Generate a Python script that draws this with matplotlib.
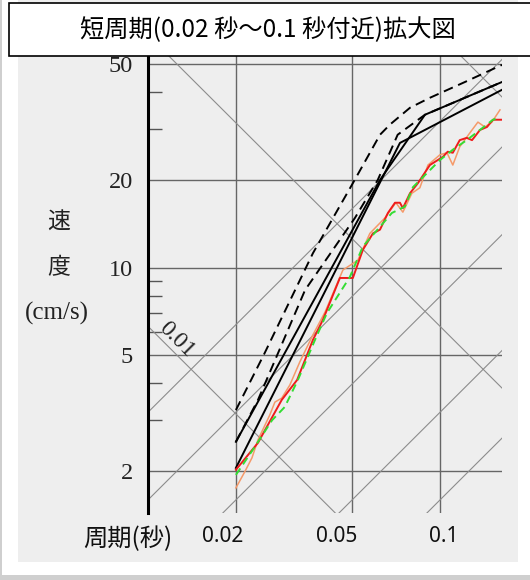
import numpy as np
import matplotlib
matplotlib.use('Agg')
import matplotlib.pyplot as plt
from matplotlib.patches import Rectangle
from matplotlib.transforms import ScaledTranslation

# ---------------- data ----------------
title = "短周期(0.02 秒～0.1 秒付近)拡大図"
xlabel = "周期(秒)"
ylabel_chars = ["速", "度"]
ylabel_unit = "(cm/s)"

xticks = [0.02, 0.05, 0.1]
xtick_labels = ["0.02", "0.05", "0.1"]
yticks = [2, 5, 10, 20, 50]
ytick_labels = ["2", "5", "10", "20", "50"]
yminor = [3, 4, 6, 7, 8, 9, 30, 40]

disp_lines = [0.01, 0.1, 1.0]          # cm (slope -1)
acc_lines = [100, 200, 500, 1000, 2000]  # cm/s2 (slope +1)
disp_label = "0.01"

# black design spectra
T_a = [0.02, 0.0251, 0.0367, 0.0503, 0.0623, 0.0674, 0.0789, 0.0923, 0.1217, 0.163]
V_a = [3.24, 5.09, 11.2, 19.5, 28.6, 31.0, 35.4, 38.3, 43.4, 49.7]
T_b = [0.02, 0.0238, 0.0345, 0.0511, 0.0612, 0.0716, 0.0888, 0.163]
V_b = [2.52, 3.51, 8.37, 14.8, 20.0, 28.6, 33.5, 43.4]
T_c = [0.02, 0.0729, 0.163]
V_c = [2.05, 26.8, 40.8]
T_d = [0.02, 0.0623, 0.0888, 0.163]
V_d = [2.52, 20.0, 33.5, 43.4]

# red
T_r = [0.02, 0.0238, 0.0287, 0.0324, 0.0367, 0.0397, 0.0454, 0.0503, 0.0544, 0.0589,
       0.0623, 0.0663, 0.0701, 0.0729, 0.0746, 0.0789, 0.0840, 0.0923, 0.1022, 0.1062,
       0.1106, 0.1168, 0.1234, 0.1287, 0.137, 0.1448, 0.1518, 0.163]
V_r = [2.02, 2.50, 3.51, 4.11, 5.64, 6.61, 9.21, 9.21, 11.5, 13.1,
       13.5, 15.4, 16.7, 16.7, 16.0, 18.0, 19.5, 22.5, 24.0, 25.0,
       24.8, 27.4, 27.9, 27.4, 29.7, 30.4, 32.2, 32.2]
# orange
T_o = [0.02, 0.0214, 0.0227, 0.0238, 0.0261, 0.0272, 0.0287, 0.0306, 0.0331, 0.0367,
       0.0404, 0.0465, 0.0523, 0.0575, 0.0647, 0.0706, 0.0746, 0.0801, 0.0853, 0.0909,
       0.0999, 0.1056, 0.1106, 0.1168, 0.1287, 0.1348, 0.1424, 0.1505, 0.1604]
V_o = [1.75, 1.98, 2.22, 2.56, 3.11, 3.45, 3.56, 3.95, 4.74, 5.87,
       7.04, 9.81, 10.6, 13.1, 14.8, 16.7, 15.5, 18.0, 18.8, 22.5,
       24.4, 24.8, 22.5, 26.0, 29.7, 31.6, 30.4, 31.6, 34.8]
# green dashed
T_g = [0.02, 0.0232, 0.0266, 0.0294, 0.0326, 0.0373, 0.0410, 0.0491, 0.0544, 0.0684,
       0.0758, 0.0808, 0.0923, 0.0999, 0.1106, 0.1234, 0.137, 0.1518, 0.1604]
V_g = [1.94, 2.42, 2.99, 3.32, 4.11, 5.64, 6.98, 9.28, 11.8, 15.4,
       16.2, 18.9, 21.6, 23.4, 25.4, 27.4, 29.7, 32.2, 32.7]

# ---------------- figure ----------------
W, H = 530, 580
fig = plt.figure(figsize=(W / 100, H / 100), dpi=100)
fig.patch.set_facecolor('white')

def fx(px):
    return px / W

def fy(py):
    return 1 - py / H

panel = Rectangle((fx(18), fy(562)), fx(518) - fx(18), fy(0) - fy(562),
                  transform=fig.transFigure, facecolor='#eeeeee',
                  edgecolor='none', zorder=-10)
fig.add_artist(panel)
# thin outer frame lines of the scanned page
fig.add_artist(Rectangle((0, fy(580)), fx(2), 1, transform=fig.transFigure,
                         facecolor='#cfcfcf', edgecolor='none', zorder=-9))
fig.add_artist(Rectangle((0, fy(580)), 1, fy(575) - fy(580), transform=fig.transFigure,
                         facecolor='#cfcfcf', edgecolor='none', zorder=-9))

ax = fig.add_axes([fx(148), fy(513), fx(502) - fx(148), fy(40) - fy(513)])
ax.set_zorder(1)
ax.set_facecolor('none')
ax.set_xscale('log')
ax.set_yscale('log')
ax.set_xlim(0.01, 0.163)
ax.set_ylim(1.435, 60.5)

# tripartite guide lines
Tg = np.array([0.005, 0.5])
for d in disp_lines:
    ax.plot(Tg, 2 * np.pi * d / Tg, color='#8c8c8c', lw=0.8, zorder=1)
for a in acc_lines:
    ax.plot(Tg, a * Tg / (2 * np.pi), color='#8c8c8c', lw=0.8, zorder=1)

# grid
ax.set_xticks(xticks)
ax.set_xticklabels(xtick_labels)
ax.set_yticks(yticks)
ax.set_yticklabels(ytick_labels)
ax.set_xticks([], minor=True)
ax.set_yticks(yminor, minor=True)
ax.set_yticklabels([], minor=True)
ax.grid(True, which='major', color='#666666', lw=1.0, zorder=1)
ax.set_axisbelow(True)

ax.tick_params(axis='x', which='major', length=0, pad=9)
ax.tick_params(axis='y', which='major', length=0, pad=11)
ax.tick_params(axis='y', which='minor', direction='in', length=10, width=1.0, color='#555555')
for lab in ax.get_yticklabels():
    lab.set_fontfamily('Liberation Serif')
    lab.set_fontsize(17.5)
    lab.set_color('#222222')
offsets = [-13.5, -15.5, 4]
for lab, off in zip(ax.get_xticklabels(), offsets):
    lab.set_fontfamily('Noto Sans')
    lab.set_fontsize(15)
    lab.set_color('#111111')
    lab.set_transform(lab.get_transform() + ScaledTranslation(off / 100, 0, fig.dpi_scale_trans))

for s in ['top', 'right', 'bottom']:
    ax.spines[s].set_visible(False)
ax.spines['left'].set_linewidth(2.2)
ax.spines['left'].set_color('black')

# spectra
ax.plot(T_a, V_a, color='black', lw=1.4, ls=(0, (5, 3)), zorder=4)
ax.plot(T_b, V_b, color='black', lw=1.4, ls=(0, (5, 3)), zorder=4)
ax.plot(T_c, V_c, color='black', lw=1.4, zorder=4)
ax.plot(T_d, V_d, color='black', lw=1.4, zorder=4)
ax.plot(T_o, V_o, color='#f59a6a', lw=1.1, zorder=5)
ax.plot(T_r, V_r, color='#ee1c1c', lw=1.4, zorder=6)
ax.plot(T_g, V_g, color='#33dd33', lw=1.4, ls=(0, (4, 2.5)), zorder=7)

# displacement label
ax.text(0.0118, 2 * np.pi * 0.01 / 0.0118, disp_label, rotation=-45, rotation_mode='anchor',
        ha='center', va='bottom', fontsize=17, family='Liberation Serif', color='#222222')

# axis labels
fig.text(fx(59), fy(222), ylabel_chars[0], ha='center', va='center', fontsize=16.5,
         family='Noto Sans CJK JP', color='#222222')
fig.text(fx(59), fy(268), ylabel_chars[1], ha='center', va='center', fontsize=16.5,
         family='Noto Sans CJK JP', color='#222222')
fig.text(fx(57), fy(313), ylabel_unit, ha='center', va='center', fontsize=18,
         family='Liberation Serif', color='#222222')
fig.text(fx(128), fy(539), xlabel, ha='center', va='center', fontsize=17.5,
         family=['Noto Sans CJK JP', 'DejaVu Sans'], color='#111111')

# title box
box = Rectangle((fx(9), fy(56)), fx(545) - fx(9), fy(3) - fy(56),
                transform=fig.transFigure, facecolor='white',
                edgecolor='black', lw=1.2, zorder=10)
fig.add_artist(box)
fig.text(fx(268), fy(30), title, ha='center', va='center', fontsize=17.5,
         family=['Noto Sans CJK JP', 'DejaVu Sans'], color='black', zorder=11)

fig.savefig('out.png', dpi=100)
